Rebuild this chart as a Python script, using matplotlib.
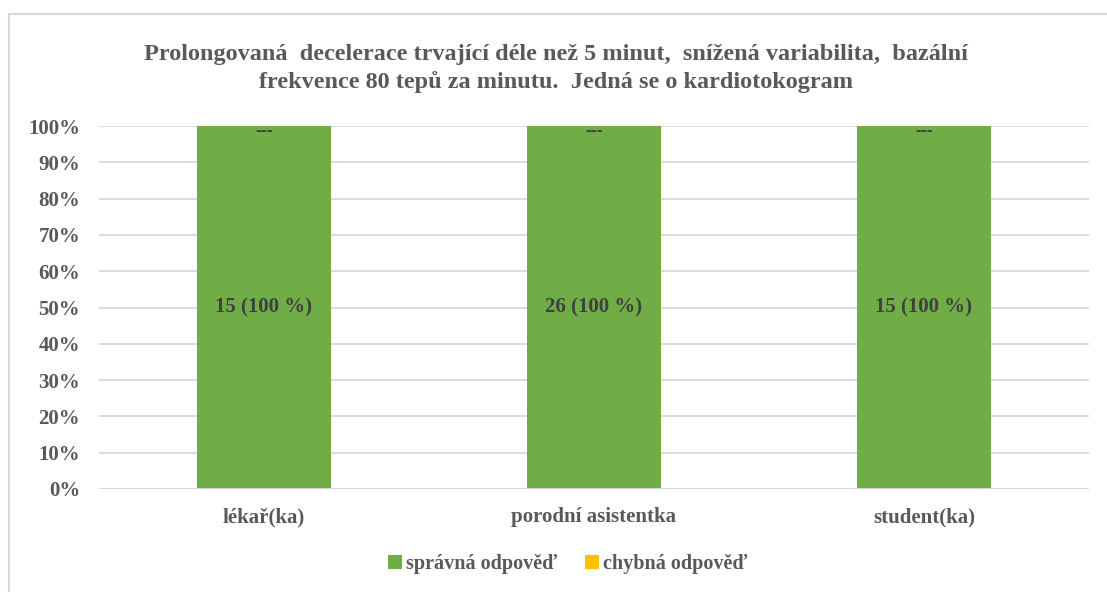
import numpy as np
import matplotlib.pyplot as plt
from matplotlib.patches import Rectangle

categories = ["lékař(ka)", "porodní asistentka", "student(ka)"]
correct_pct = [100, 100, 100]
wrong_pct = [0, 0, 0]
correct_n = [15, 26, 15]
series_names = ["správná odpověď", "chybná odpověď"]
title = ("Prolongovaná  decelerace trvající déle než 5 minut,  snížená variabilita,  bazální\n"
         "frekvence 80 tepů za minutu.  Jedná se o kardiotokogram")

green = "#70AD47"
yellow = "#FFC000"
txt = "#595959"

plt.rcParams['font.family'] = ['Liberation Serif', 'DejaVu Serif']
plt.rcParams['font.weight'] = 'bold'

fig = plt.figure(figsize=(11.07, 5.92), dpi=100)
ax = fig.add_axes([0.0894, 0.174, 0.8943, 0.613])

# outer chart frame (only top/left inside the image)
fig.patches.append(Rectangle((9/1107, -0.1), 1.2, (592-14)/592 + 0.1, transform=fig.transFigure,
                             fill=False, edgecolor="#D9D9D9", linewidth=1.5))

x = np.arange(len(categories))
w = 0.405
b1 = ax.bar(x, correct_pct, w, color=green, label=series_names[0], zorder=3)
b2 = ax.bar(x, wrong_pct, w, bottom=correct_pct, color=yellow, label=series_names[1], zorder=3)

for xi, n, p in zip(x, correct_n, correct_pct):
    ax.text(xi, p / 2, f"{n} ({p} %)", ha="center", va="center", fontsize=15,
            color="#404040", fontweight="bold")
for xi, p in zip(x, correct_pct):
    ax.text(xi, p - 1.5, "---", ha="center", va="center", fontsize=13, color="#404040")

ax.set_xlim(-0.5, 2.5)
ax.set_ylim(0, 100)
ax.set_yticks(np.arange(0, 101, 10))
ax.set_yticklabels([f"{v}%" for v in range(0, 101, 10)])
ax.set_xticks(x)
ax.set_xticklabels(categories)
ax.tick_params(axis="y", length=0, pad=13.5, labelsize=15, labelcolor=txt)
ax.tick_params(axis="x", length=0, pad=13, labelsize=15, labelcolor=txt)
ax.yaxis.grid(True, color="#D9D9D9", linewidth=1.3, zorder=0)
for s in ax.spines.values():
    s.set_visible(False)
ax.axhline(0, color="#D9D9D9", linewidth=1.3, zorder=4)

fig.text(0.502, 0.885, title, ha="center", va="center", fontsize=17.5,
         color=txt, fontweight="bold", linespacing=1.35)

fig.legend(handles=[b1, b2], labels=series_names, loc="center", bbox_to_anchor=(0.513, 0.047),
           ncol=2, frameon=False, fontsize=14.5, handlelength=0.7, handleheight=0.7,
           handletextpad=0.2, columnspacing=1.4, labelcolor=txt)

fig.savefig("out.png", dpi=100)
